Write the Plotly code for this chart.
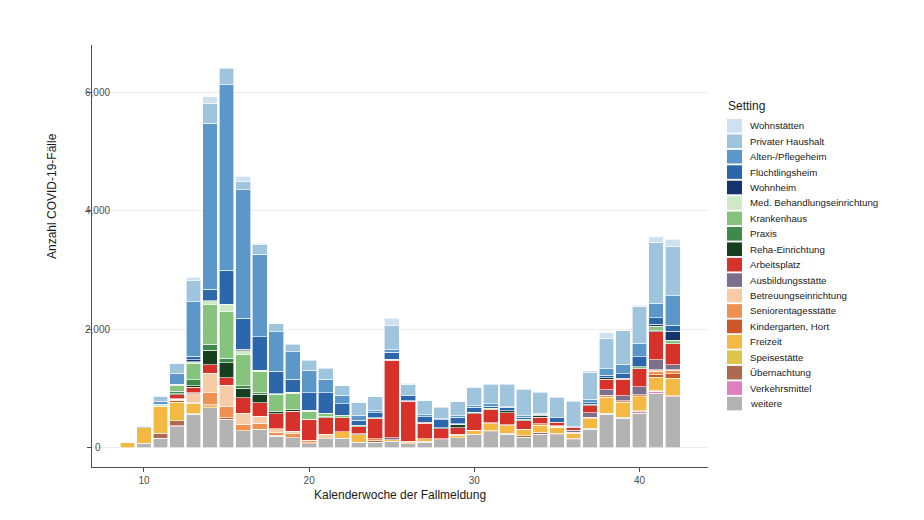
import plotly.graph_objects as go

weeks = list(range(9, 43))

# stacking order: bottom -> top
categories = ["weitere", "Verkehrsmittel", "Übernachtung", "Speisestätte", "Freizeit",
              "Kindergarten, Hort", "Seniorentagesstätte", "Betreuungseinrichtung",
              "Ausbildungsstätte", "Arbeitsplatz", "Reha-Einrichtung", "Praxis",
              "Krankenhaus", "Med. Behandlungseinrichtung", "Wohnheim", "Flüchtlingsheim",
              "Alten-/Pflegeheim", "Privater Haushalt", "Wohnstätten"]

colors = ["#b3b3b3", "#e07fbd", "#ad6a51", "#dcc54a", "#f3b943",
          "#cf5629", "#ef9150", "#f6cba6",
          "#7b6f8c", "#d7322a", "#173e1e", "#3e8a4a",
          "#86c37c", "#cde9c6", "#15336d", "#2c66ab",
          "#5b97c9", "#9ec4de", "#cfe0f1"]

weitere = [0, 65, 158, 355, 563, 675, 480, 290, 315, 195, 170, 70, 150, 160, 95, 95, 106, 67, 95, 134,
           168, 230, 274, 224, 179, 224, 219, 135, 315, 568, 500, 584, 922, 865]
verkehrsmittel = [0, 0, 0, 20, 15, 0, 0, 0, 0, 0, 0, 0, 0, 0, 0, 0, 0, 0, 0, 0,
                  0, 0, 0, 0, 0, 0, 0, 0, 0, 17, 0, 28, 28, 17]
uebernachtung = [0, 10, 85, 85, 0, 0, 0, 0, 0, 0, 0, 0, 0, 0, 0, 25, 0, 0, 17, 17,
                 0, 0, 11, 22, 22, 34, 28, 28, 17, 0, 17, 0, 0, 0]
speisestaette = [0, 0, 0, 0, 0, 0, 0, 0, 0, 0, 0, 0, 0, 0, 0, 0, 0, 0, 0, 0,
                 0, 0, 0, 0, 0, 0, 0, 0, 0, 0, 0, 10, 12, 0]
freizeit = [85, 260, 450, 310, 170, 35, 0, 0, 0, 0, 0, 0, 0, 110, 123, 0, 28, 20, 39, 0,
            39, 56, 118, 123, 101, 123, 96, 84, 157, 264, 253, 236, 225, 292]
kindergarten = [0, 0, 10, 25, 15, 20, 25, 0, 0, 15, 0, 15, 0, 0, 0, 0, 0, 0, 0, 0,
                17, 0, 0, 0, 0, 0, 0, 0, 0, 0, 0, 0, 45, 73]
seniorentag = [0, 0, 0, 0, 0, 195, 200, 105, 95, 45, 75, 40, 0, 0, 0, 30, 0, 20, 0, 0,
               0, 0, 22, 17, 11, 22, 17, 17, 22, 34, 22, 34, 56, 56]
betreuung = [0, 0, 0, 25, 150, 330, 350, 185, 125, 70, 30, 0, 75, 0, 0, 0, 0, 0, 0, 0,
             0, 0, 0, 0, 0, 0, 0, 0, 0, 0, 0, 0, 28, 11]
ausbildung = [0, 0, 0, 10, 15, 0, 0, 0, 0, 0, 0, 0, 0, 0, 20, 0, 39, 0, 0, 0,
              0, 10, 0, 0, 0, 0, 11, 28, 84, 96, 84, 140, 174, 84]
arbeitsplatz = [0, 0, 0, 65, 95, 145, 125, 265, 225, 250, 340, 345, 285, 240, 118, 336, 1305, 680, 263, 168,
                112, 280, 213, 207, 146, 112, 56, 56, 112, 174, 281, 298, 472, 354]
reha = [0, 0, 10, 15, 20, 250, 255, 160, 140, 40, 30, 10, 0, 0, 0, 0, 0, 0, 17, 22,
        50, 17, 0, 28, 0, 34, 0, 0, 28, 28, 17, 0, 22, 0]
praxis = [0, 0, 0, 40, 105, 100, 75, 40, 30, 0, 0, 0, 20, 0, 25, 0, 0, 0, 0, 0,
          0, 0, 0, 0, 22, 0, 0, 0, 0, 0, 0, 0, 0, 0]
krankenhaus = [0, 0, 20, 100, 280, 675, 790, 535, 355, 280, 270, 140, 55, 40, 0, 20, 20, 0, 0, 0,
               0, 0, 28, 0, 0, 0, 0, 0, 0, 0, 0, 34, 67, 67]
med_behandlung = [0, 0, 0, 15, 25, 55, 125, 60, 25, 15, 20, 10, 0, 0, 0, 0, 0, 0, 0, 0,
                  17, 0, 0, 0, 0, 0, 0, 0, 0, 0, 0, 0, 0, 0]
wohnheim = [0, 0, 0, 10, 35, 0, 0, 20, 0, 0, 0, 0, 0, 0, 0, 0, 0, 10, 0, 0,
            0, 10, 0, 0, 0, 0, 0, 0, 0, 0, 0, 0, 34, 152]
fluechtlingsheim = [0, 0, 0, 0, 55, 195, 570, 525, 565, 385, 225, 300, 340, 195, 84, 84, 118, 84, 95, 129,
                    112, 84, 39, 62, 34, 20, 84, 17, 28, 39, 73, 169, 112, 101]
altenheim = [0, 20, 55, 180, 920, 2800, 3135, 2170, 1390, 660, 465, 375, 235, 145, 84, 34, 39, 0, 28, 17,
             22, 20, 34, 11, 22, 17, 0, 0, 56, 112, 163, 230, 242, 495]
privat = [0, 12, 70, 160, 355, 340, 280, 140, 160, 140, 125, 170, 180, 160, 207, 235, 409, 195, 240, 196,
          240, 308, 336, 375, 448, 355, 343, 416, 450, 517, 562, 618, 1034, 826]
wohnstaetten = [0, 0, 20, 15, 65, 110, 0, 85, 30, 0, 0, 0, 0, 0, 0, 0, 123, 10, 11, 0,
                11, 17, 0, 0, 0, 0, 0, 0, 28, 90, 0, 28, 90, 129]

series = [weitere, verkehrsmittel, uebernachtung, speisestaette, freizeit, kindergarten,
          seniorentag, betreuung, ausbildung, arbeitsplatz, reha, praxis, krankenhaus,
          med_behandlung, wohnheim, fluechtlingsheim, altenheim, privat, wohnstaetten]

y_ticks = [0, 2000, 4000, 6000]
x_ticks = [10, 20, 30, 40]

FONT = "Liberation Sans, Arial, Helvetica, sans-serif"
W, H = 924, 520
L, R, T, B = 92, 708, 45, 467


def px_x(px):
    return (px - L) / (R - L)


def px_y(py):
    return (B - py) / (B - T)


fig = go.Figure()
for name, col, vals in zip(categories, colors, series):
    fig.add_trace(go.Bar(
        x=weeks, y=[v if v else None for v in vals], name=name,
        marker=dict(color=col, line=dict(color="white", width=0.6)),
        width=0.9, showlegend=False,
        hovertemplate=name + "<br>KW %{x}: %{y}<extra></extra>",
    ))

annotations = []
shapes = []

# y tick labels
for v in y_ticks:
    annotations.append(dict(x=px_x(97.5), xref="paper", y=v, yref="y", text=f"{v:,}",
                            showarrow=False, xanchor="center", yanchor="middle",
                            font=dict(size=10, color="#4d4d4d", family=FONT)))

# axis titles
annotations.append(dict(x=px_x(400), xref="paper", y=px_y(495), yref="paper",
                        text="Kalenderwoche der Fallmeldung", showarrow=False,
                        xanchor="center", yanchor="middle",
                        font=dict(size=12, color="#1a1a1a", family=FONT)))
annotations.append(dict(x=px_x(52), xref="paper", y=px_y(196), yref="paper",
                        text="Anzahl COVID-19-Fälle", showarrow=False, textangle=-90,
                        xanchor="center", yanchor="middle",
                        font=dict(size=12, color="#1a1a1a", family=FONT)))

# legend (top -> bottom = reverse stacking order)
annotations.append(dict(x=px_x(726), xref="paper", y=px_y(106), yref="paper",
                        text="Setting", showarrow=False, xanchor="left", yanchor="middle",
                        font=dict(size=12, color="#1a1a1a", family=FONT)))
leg_items = list(zip(categories, colors))[::-1]
for i, (name, col) in enumerate(leg_items):
    top = 119 + i * 15.43
    shapes.append(dict(type="rect", xref="paper", yref="paper",
                       x0=px_x(727), x1=px_x(742), y0=px_y(top + 13.6), y1=px_y(top),
                       fillcolor=col, line=dict(width=0)))
    annotations.append(dict(x=px_x(748), xref="paper", y=px_y(top + 6.8), yref="paper",
                            text=name, showarrow=False, xanchor="left", yanchor="middle",
                            font=dict(size=9.7, color="#1a1a1a", family=FONT)))

fig.update_layout(
    width=W, height=H,
    margin=dict(l=L, r=W - R, t=T, b=H - B, pad=0),
    barmode="stack", bargap=0.1,
    plot_bgcolor="white", paper_bgcolor="white",
    font=dict(family=FONT, size=10, color="#4d4d4d"),
    xaxis=dict(range=[6.855, 44.145], tickvals=x_ticks, ticks="outside", ticklen=4,
               tickcolor="#4d4d4d", showline=True, linecolor="#4d4d4d", linewidth=1,
               showgrid=False, zeroline=False,
               tickfont=dict(size=10, color="#4d4d4d", family=FONT)),
    yaxis=dict(range=[-325, 6800], tickvals=y_ticks, ticks="outside", ticklen=4,
               tickcolor="#4d4d4d", showline=True, linecolor="#4d4d4d", linewidth=1,
               showgrid=True, gridcolor="#ececec", gridwidth=1, zeroline=False,
               showticklabels=False),
    annotations=annotations, shapes=shapes,
)

fig.write_html("out.html")
